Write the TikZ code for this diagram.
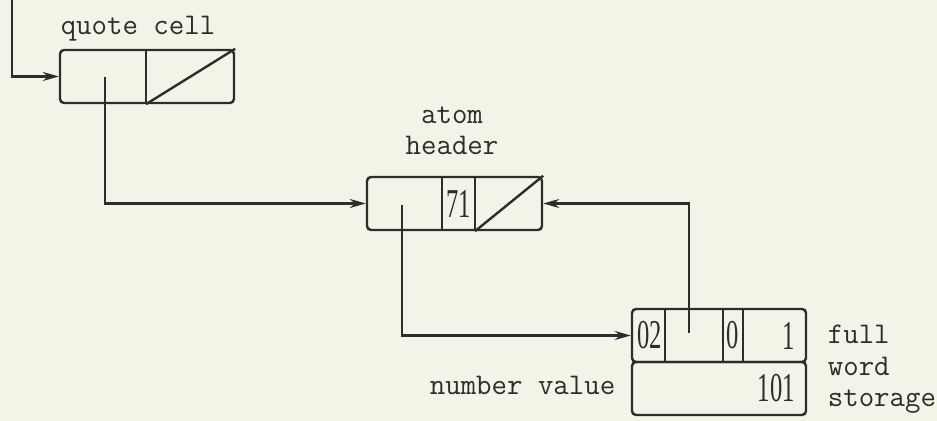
\documentclass[tikz,border=0pt]{standalone}
\usepackage{fontspec}
\newfontfamily\cellnum[FakeStretch=0.6]{Liberation Serif}
\usetikzlibrary{arrows.meta}
\definecolor{paper}{RGB}{243,244,232}
\definecolor{ink}{RGB}{45,45,42}
\begin{document}
\begin{tikzpicture}[x=0.5pt,y=-0.5pt,line width=1.2pt,
    every node/.style={text=ink},
    cell/.style={draw=ink,rounded corners=2pt,inner sep=0pt,minimum height=26.5pt},
    ptr/.style={draw=ink,-{Stealth[length=8pt,width=4.5pt]}},
    lbl/.style={font=\ttfamily\fontsize{15pt}{15.75pt}\selectfont},
    num/.style={font=\cellnum\fontsize{20.5pt}{22pt}\selectfont,inner sep=0pt}]
    % Zelle -> Atomkopf -> Ganzwortspeicher, mit Rueckverweis.
    \fill[paper] (0,0) rectangle (937,421);
    \useasboundingbox (0,0) rectangle (937,421);

    \node[cell,minimum width=87pt] (quote) at (147,76.5) {};
    \draw[ink] (146,0 |- quote.north) -- (146,0 |- quote.south);
    \draw[ink] (146,0 |- quote.south) -- (quote.north east);

    \node[cell,minimum width=87.5pt] (atom) at (454.5,203.5) {};
    \draw[ink] (442,0 |- atom.north) -- (442,0 |- atom.south);
    \draw[ink] (475,0 |- atom.north) -- (475,0 |- atom.south);
    \draw[ink] (475,0 |- atom.south) -- (atom.north east);
    \node[num] (hval) at (458.5,203.5) {71};

    \node[cell,minimum width=87pt] (fwtop) at (719,335.5) {};
    \node[cell,minimum width=87pt] (fwbot) at (719,388.5) {};
    \draw[ink] (665,0 |- fwtop.north) -- (665,0 |- fwtop.south);
    \draw[ink] (723,0 |- fwtop.north) -- (723,0 |- fwtop.south);
    \draw[ink] (743,0 |- fwtop.north) -- (743,0 |- fwtop.south);
    \node[num] (ftag) at (649.5,335.5) {02};
    \node[num] (fzero) at (733,335.5) {0};
    \node[num,anchor=east] (fone) at (796,335.5) {1};
    \node[num,anchor=east] (fnum) at (796,388.5) {101};

    \coordinate (entry) at (12,0);
    \coordinate (qptr) at (105,77);
    \coordinate (aptr) at (402,205);
    \coordinate (fptr) at (689,333);
    \draw[ptr] (entry) |- (quote.west);
    \draw[ptr] (qptr) |- (atom.west);
    \draw[ptr] (aptr) |- (fwtop.west);
    \draw[ptr] (fptr) |- (atom.east);

    \node[lbl,anchor=base] (qlbl) at (138,35) {quote cell};
    \node[lbl,anchor=base,align=center] (albl) at (452,155) {atom\\header};
    \node[lbl,anchor=base west] (nlbl) at (422,395) {number value};
    \node[lbl,anchor=base west,align=left] (flbl) at (820,407) {full\\word\\storage};
\end{tikzpicture}
\end{document}
